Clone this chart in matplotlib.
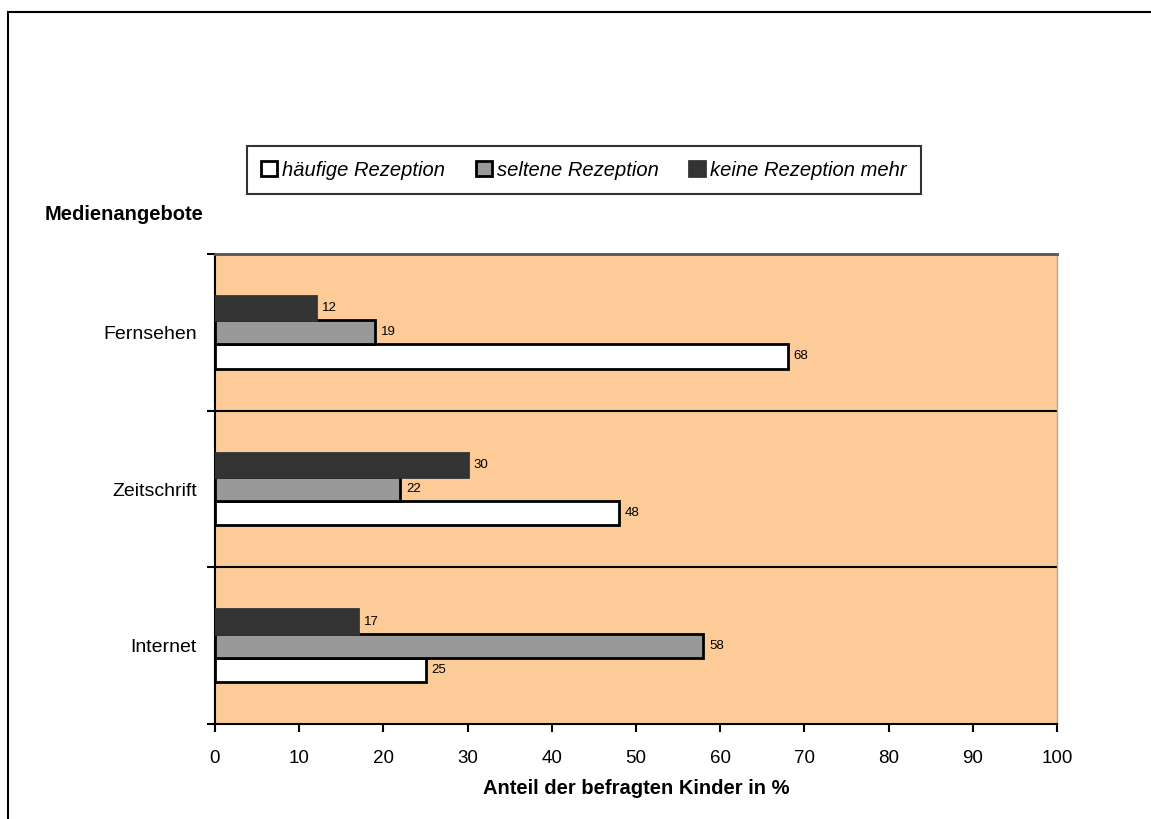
import numpy as np
import matplotlib.pyplot as plt
from matplotlib.patches import Rectangle

plt.rcParams['font.family'] = ['Liberation Sans', 'DejaVu Sans']

# Daten
kategorien = ['Fernsehen', 'Zeitschrift', 'Internet']
haeufig = [68, 48, 25]
selten = [19, 22, 58]
keine = [12, 30, 17]

reihen = ['häufige Rezeption', 'seltene Rezeption', 'keine Rezeption mehr']
farben = ['#FFFFFF', '#999999', '#333333']
kanten = ['#000000', '#000000', '#333333']

fig = plt.figure(figsize=(11.51, 8.19), dpi=100)
ax = fig.add_axes([215 / 1151, 1 - 724 / 819, 842 / 1151, 470 / 819])
ax.set_facecolor('#FDCB98')

y = np.arange(len(kategorien))
h = 0.154
# oben: keine, Mitte: selten, unten: häufig (y-Achse invertiert)
offsets = [h, 0, -h]
bars = []
for werte, off, fc, ec, name in zip([haeufig, selten, keine], offsets, farben, kanten, reihen):
    b = ax.barh(y + off, werte, height=h, color=fc, edgecolor=ec, linewidth=2,
                label=name, zorder=3)
    bars.append(b)
    for yi, v in zip(y + off, werte):
        ax.text(v + 0.7, yi, str(v), va='center', ha='left', fontsize=9.5, zorder=4)

ax.set_xlim(0, 100)
ax.set_ylim(2.5, -0.5)
ax.set_xticks(np.arange(0, 101, 10))
ax.tick_params(axis='x', direction='out', length=6, width=1.5, labelsize=13.5, pad=13)

# Kategoriegrenzen als Hauptticks, Beschriftung auf Nebenticks
ax.set_yticks([-0.5, 0.5, 1.5, 2.5])
ax.set_yticklabels([])
ax.tick_params(axis='y', which='major', direction='out', length=6, width=1.5)
ax.set_yticks(y, minor=True)
ax.set_yticklabels(kategorien, minor=True)
ax.tick_params(axis='y', which='minor', length=0, labelsize=14, pad=13)

for g in [0.5, 1.5]:
    ax.axhline(g, color='black', linewidth=1.5, zorder=2)

ax.spines['left'].set_linewidth(1.5)
ax.spines['bottom'].set_linewidth(1.5)
ax.spines['top'].set_color('#555555')
ax.spines['top'].set_linewidth(2)
ax.spines['right'].set_color('#AAAAAA')
ax.spines['right'].set_linewidth(1)

ax.set_xlabel('Anteil der befragten Kinder in %', fontsize=14.5, fontweight='bold',
              labelpad=8)
fig.text(45 / 1151, 1 - 215 / 819, 'Medienangebote', fontsize=14.5, fontweight='bold',
         va='center', ha='left')

leg = fig.legend(handles=bars, labels=reihen, loc='center',
                 bbox_to_anchor=(584 / 1151, 1 - 170 / 819), ncol=3,
                 prop={'style': 'italic', 'size': 14.5}, frameon=True, fancybox=False,
                 edgecolor='black', handlelength=0.8, handleheight=0.8,
                 handletextpad=0.25, columnspacing=1.5, borderpad=0.7,
                 borderaxespad=0)
leg.get_frame().set_linewidth(1.5)

# Rahmen um das Diagramm
fig.patches.append(Rectangle((8 / 1151, -0.1), 1.2, 1 - 12 / 819 + 0.1,
                             transform=fig.transFigure, fill=False,
                             edgecolor='black', linewidth=1.5))

fig.savefig('out.png', dpi=100)
